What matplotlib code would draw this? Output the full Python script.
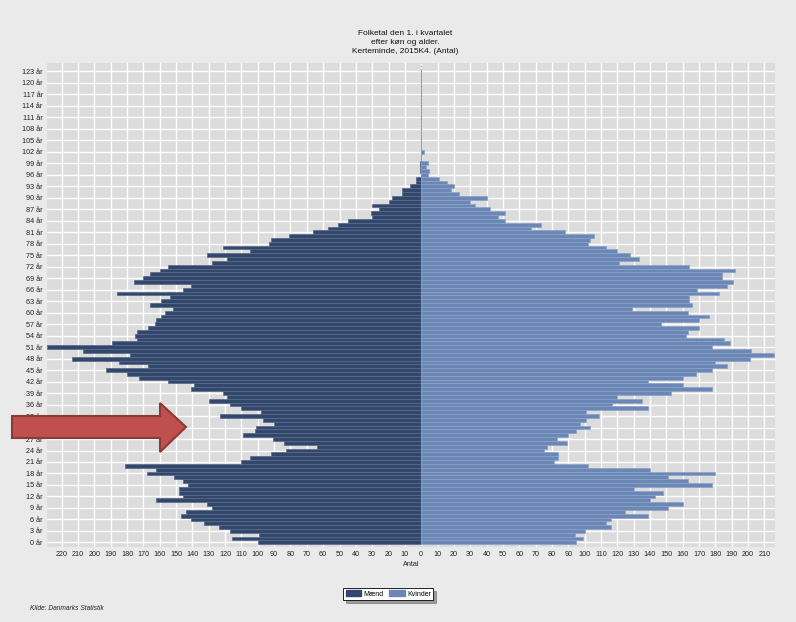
import numpy as np
import matplotlib
matplotlib.use("Agg")
import matplotlib.pyplot as plt
from matplotlib.patches import Patch, Polygon

plt.rcParams['font.family'] = ['Liberation Sans', 'DejaVu Sans']

# population by age 0..102 (ages 103-123 are empty)
maend = [100, 116, 99, 117, 124, 133, 141, 147, 144, 128,
         131, 162, 146, 148, 148, 143, 146, 151, 168, 162,
         181, 110, 105, 92, 83, 64, 84, 91, 109, 102,
         101, 90, 97, 123, 98, 110, 117, 130, 119, 121,
         141, 139, 155, 173, 180, 193, 167, 185, 214, 178,
         207, 229, 189, 174, 175, 174, 167, 163, 162, 159,
         157, 152, 166, 159, 154, 186, 146, 141, 176, 170,
         166, 160, 155, 128, 119, 131, 105, 121, 93, 92,
         81, 66, 57, 51, 45, 30, 31, 26, 30, 20,
         18, 12, 12, 7, 3, 3, 0, 1, 1, 1,
         0, 0, 0]
kvinder = [95, 99, 94, 100, 116, 113, 116, 139, 125, 151,
           160, 140, 143, 148, 130, 178, 163, 151, 180, 140,
           102, 81, 84, 84, 75, 77, 89, 83, 90, 95,
           103, 97, 101, 109, 101, 139, 117, 135, 120, 153,
           178, 160, 139, 160, 168, 178, 187, 180, 201, 216,
           202, 178, 189, 185, 162, 163, 170, 147, 170, 176,
           163, 129, 166, 164, 164, 182, 169, 187, 191, 184,
           184, 192, 164, 121, 133, 128, 120, 113, 102, 103,
           106, 88, 67, 73, 51, 47, 51, 42, 33, 30,
           40, 23, 18, 20, 16, 11, 4, 5, 3, 4,
           0, 0, 2]
max_age = 123
ages = np.arange(max_age + 1)
men = np.zeros(max_age + 1)
women = np.zeros(max_age + 1)
men[:len(maend)] = maend
women[:len(kvinder)] = kvinder

xticks = np.arange(-220, 211, 10)
yticks = np.arange(0, max_age + 1, 3)

fig = plt.figure(figsize=(7.96, 6.22), dpi=100, facecolor='#eaeaea')
ax = fig.add_axes([47 / 796, 1 - 547 / 622, 728 / 796, 484 / 622])
ax.set_facecolor('#dcdcdc')

ax.barh(ages, -men, height=1.0, color='#33476b', edgecolor='#566a8e', linewidth=0.5, zorder=3)
ax.barh(ages, women, height=1.0, color='#6b87b5', edgecolor='#8ca3c8', linewidth=0.5, zorder=3)
ax.axvline(0, color='#8fa6cc', lw=0.9, ls=':', zorder=2)

ax.set_xlim(-men.max(), women.max() + 0.5)
ax.set_ylim(-1.2, 125.2)
ax.set_xticks(xticks)
ax.set_xticklabels([str(abs(v)) for v in xticks])
ax.set_yticks(yticks)
ax.set_yticklabels([f'{a} år' for a in yticks])
ax.grid(True, color='white', lw=1.0, zorder=1)
ax.set_axisbelow(True)
for s in ax.spines.values():
    s.set_visible(False)
ax.tick_params(length=0, labelsize=5.2, colors='#222222', pad=3)
ax.set_xlabel('Antal', fontsize=5.2, color='#222222', labelpad=2)

fig.text(0.509, 0.931, 'Folketal den 1. i kvartalet\nefter køn og alder.\nKerteminde, 2015K4. (Antal)',
         ha='center', va='center', fontsize=6, color='#111111', linespacing=1.4)

handles = [Patch(facecolor='#33476b', edgecolor='#33476b', label='Mænd'),
           Patch(facecolor='#6b87b5', edgecolor='#6b87b5', label='Kvinder')]
leg = fig.legend(handles=handles, loc='center', bbox_to_anchor=(0.488, 0.045), ncol=2,
                 fontsize=5, frameon=True, fancybox=False, shadow=True, edgecolor='black',
                 handlelength=2.2, handleheight=0.9, columnspacing=0.8, borderpad=0.3,
                 handletextpad=0.4)
leg.get_frame().set_linewidth(0.6)

fig.text(0.038, 0.019, 'Kilde: Danmarks Statistik', fontsize=4.8, style='italic', color='#222222')

# red arrow pointing at the 25-35 year dip
pts = [(12, 416), (160, 416), (160, 403), (186, 427), (160, 452), (160, 438), (12, 438)]
arrow = Polygon([(px / 796, 1 - py / 622) for px, py in pts], closed=True,
                transform=fig.transFigure, facecolor='#c0504d', edgecolor='#8c3a37', lw=1.5)
fig.patches.append(arrow)

fig.savefig('out.png', dpi=100, facecolor=fig.get_facecolor())
